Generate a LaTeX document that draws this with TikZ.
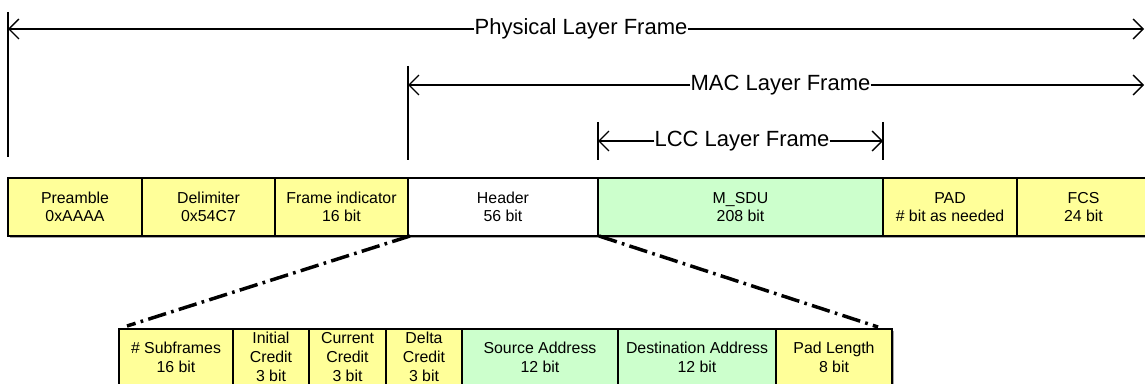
\documentclass[tikz,border=0pt]{standalone}
\usepackage{fontspec}
\setmainfont{Liberation Sans}
\usetikzlibrary{arrows.meta,calc,shadows}
\definecolor{cellY}{RGB}{255,255,153}
\definecolor{cellG}{RGB}{204,255,204}
\begin{document}
\begin{tikzpicture}[x=0.75pt,y=-0.75pt,
  cellbase/.style={draw=black,line width=1.5pt,inner sep=0pt,align=center,
    drop shadow={shadow xshift=1.2pt,shadow yshift=-1.2pt,fill=black!35,opacity=1}},
  topcell/.style={cellbase,minimum height=58*0.75pt,font=\fontsize{11.9pt}{13.5pt}\selectfont},
  botcell/.style={cellbase,minimum height=56*0.75pt,font=\fontsize{11.9pt}{14.25pt}\selectfont},
  framelbl/.style={inner sep=0pt,font=\fontsize{16.5pt}{19pt}\selectfont},
  dimline/.style={line width=1pt,-{Straight Barb[length=7.5pt,width=15pt]}},
  tick/.style={line width=1.3pt},
  zoomline/.style={line width=2.6pt,dash pattern=on 14pt off 4pt on 2pt off 4pt}
]
\useasboundingbox (0,0) rectangle (1145,384);
\clip (0,0) rectangle (1145,384);

% top row
\node[topcell,fill=cellY,minimum width=134*0.75pt] (pre) at (75,207) {Preamble\\0xAAAA};
\node[topcell,fill=cellY,minimum width=133*0.75pt] (del) at (208.5,207) {Delimiter\\0x54C7};
\node[topcell,fill=cellY,minimum width=133*0.75pt] (fid) at (341.5,207) {Frame indicator\\16 bit};
\node[topcell,fill=white,minimum width=190*0.75pt] (hdr) at (503,207) {Header\\56 bit};
\node[topcell,fill=cellG,minimum width=285*0.75pt] (sdu) at (740.5,207) {M\_SDU\\208 bit};
\node[topcell,fill=cellY,minimum width=134*0.75pt] (pad) at (950,207) {PAD\\\# bit as needed};
\node[topcell,fill=cellY,minimum width=133*0.75pt] (fcs) at (1083.5,207) {FCS\\24 bit};

% bottom row
\node[botcell,fill=cellY,minimum width=114*0.75pt] (sub) at (176,357) {\# Subframes\\16 bit};
\node[botcell,fill=cellY,minimum width=76*0.75pt] (ini) at (271,357) {Initial\\Credit\\3 bit};
\node[botcell,fill=cellY,minimum width=77*0.75pt] (cur) at (347.5,357) {Current\\Credit\\3 bit};
\node[botcell,fill=cellY,minimum width=76*0.75pt] (dlt) at (424,357) {Delta\\Credit\\3 bit};
\node[botcell,fill=cellG,minimum width=156*0.75pt] (src) at (540,357) {Source Address\\12 bit};
\node[botcell,fill=cellG,minimum width=158*0.75pt] (dst) at (697,357) {Destination Address\\12 bit};
\node[botcell,fill=cellY,minimum width=116*0.75pt] (pln) at (834,357) {Pad Length\\8 bit};

% zoom lines
\draw[zoomline] ($(hdr.south west)+(3,-1)$) -- ($(sub.north west)+(9,-2)$);
\draw[zoomline] ($(hdr.south east)+(0,-1)$) -- ($(pln.north east)+(-15,-1)$);

% Physical layer frame
\coordinate (phyT) at (8,12);
\coordinate (phyB) at (8,157);
\coordinate (phyL) at (8,29);
\coordinate (phyR) at (1144,29);
\draw[tick] (phyT) -- (phyB);
\node[framelbl] (phy) at (581,29) {Physical Layer Frame};
\draw[dimline] (phy.west) -- (phyL);
\draw[dimline] (phy.east) -- (phyR);

% MAC layer frame
\coordinate (macT) at (408,66);
\coordinate (macB) at (408,160);
\coordinate (macL) at (408,85);
\coordinate (macR) at (1144,85);
\draw[tick] (macT) -- (macB);
\node[framelbl] (mac) at (780.5,85) {MAC Layer Frame};
\draw[dimline] (mac.west) -- (macL);
\draw[dimline] (mac.east) -- (macR);

% LCC layer frame
\coordinate (lccT1) at (598,122);
\coordinate (lccB1) at (598,160);
\coordinate (lccT2) at (883,122);
\coordinate (lccB2) at (883,160);
\coordinate (lccL) at (598,141);
\coordinate (lccR) at (883,141);
\draw[tick] (lccT1) -- (lccB1);
\draw[tick] (lccT2) -- (lccB2);
\node[framelbl] (lcc) at (742,141) {LCC Layer Frame};
\draw[dimline] (lcc.west) -- (lccL);
\draw[dimline] (lcc.east) -- (lccR);
\end{tikzpicture}
\end{document}
